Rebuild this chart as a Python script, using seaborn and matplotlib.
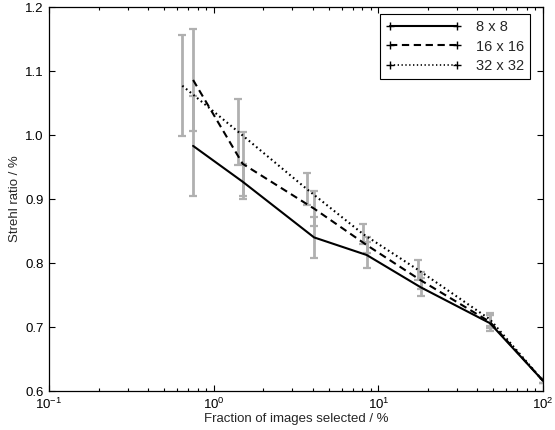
import matplotlib
matplotlib.use("Agg")
import matplotlib.pyplot as plt
from matplotlib.lines import Line2D
from matplotlib.ticker import LogLocator
import seaborn as sns
import pandas as pd

# ---- data ----
sizes = ['8 x 8', '16 x 16', '32 x 32']

frac_8 = [0.75, 1.5, 4.07, 8.5, 18.1, 47.6, 100]
strehl_8 = [0.983, 0.927, 0.840, 0.8125, 0.762, 0.706, 0.616]
err_8 = [0.078, 0.027, 0.032, 0.020, 0.014, 0.012, 0.004]

frac_16 = [0.75, 1.5, 4.07, 8.5, 18.1, 47.6, 100]
strehl_16 = [1.086, 0.955, 0.885, 0.828, 0.773, 0.708, 0.616]
err_16 = [0.080, 0.050, 0.027, 0.012, 0.013, 0.010, 0.004]

frac_32 = [0.645, 1.41, 3.70, 8.1, 17.5, 47.6, 100]
strehl_32 = [1.077, 1.005, 0.915, 0.845, 0.789, 0.712, 0.616]
err_32 = [0.079, 0.052, 0.025, 0.016, 0.016, 0.010, 0.004]

xticks = [0.1, 1, 10, 100]
yticks = [0.6, 0.7, 0.8, 0.9, 1.0, 1.1, 1.2]
ytick_labels = ['0.6', '0.7', '0.8', '0.9', '1.0', '1.1', '1.2']

series = {
    sizes[0]: (frac_8, strehl_8, err_8),
    sizes[1]: (frac_16, strehl_16, err_16),
    sizes[2]: (frac_32, strehl_32, err_32),
}

rows = []
for name, (fx, sy, ey) in series.items():
    for a, b, c in zip(fx, sy, ey):
        rows.append({'size': name, 'frac': a, 'strehl': b, 'err': c})
df = pd.DataFrame(rows)

# ---- style ----
sns.set_theme(style="ticks")
plt.rcParams['font.family'] = ['Liberation Sans', 'DejaVu Sans']
plt.rcParams['mathtext.fontset'] = 'custom'
plt.rcParams['mathtext.rm'] = 'Liberation Sans'
plt.rcParams['mathtext.it'] = 'Liberation Sans'

fig = plt.figure(figsize=(5.55, 4.30), dpi=100)
ax = fig.add_axes([49 / 555, 39 / 430, 494 / 555, 384 / 430])

# error bars (grey)
for name, (fx, sy, ey) in series.items():
    ax.errorbar(fx, sy, yerr=ey, fmt='none', ecolor='#b0b0b0',
                elinewidth=2.0, capsize=3, capthick=1.6, zorder=1)

dash_map = {sizes[0]: '', sizes[1]: (3.5, 2.2), sizes[2]: (0.8, 1.5)}
sns.lineplot(data=df, x='frac', y='strehl', hue='size', style='size',
             palette={s: 'black' for s in sizes}, dashes=dash_map,
             estimator=None, sort=False, legend=False, linewidth=1.5,
             ax=ax, zorder=3)

ax.set_xscale('log')
ax.set_xlim(0.1, 100)
ax.set_ylim(0.6, 1.2)
ax.set_xticks(xticks)
ax.set_yticks(yticks)
ax.set_yticklabels(ytick_labels)
ax.xaxis.set_minor_locator(LogLocator(base=10, subs=range(2, 10)))

ax.tick_params(which='both', direction='in', top=True, right=True,
               labelsize=9.5, colors='black', width=0.8)
ax.tick_params(which='major', length=4.5)
ax.tick_params(axis='x', which='major', pad=4.5)
ax.tick_params(axis='y', which='major', pad=4)
ax.tick_params(which='minor', length=2.2)
for sp in ax.spines.values():
    sp.set_color('black')
    sp.set_linewidth(0.9)

ax.set_xlabel('Fraction of images selected / %', fontsize=9.5, labelpad=0.5)
ax.set_ylabel('Strehl ratio / %', fontsize=9.5, labelpad=3)

handles = [
    Line2D([], [], color='black', lw=1.5, ls='-', marker='+', ms=6, mew=1),
    Line2D([], [], color='black', lw=1.5, dashes=(3.5, 2.2), marker='+', ms=6, mew=1),
    Line2D([], [], color='black', lw=1.2, dashes=(0.8, 1.5), marker='+', ms=6, mew=1),
]
leg = ax.legend(handles, sizes, loc='upper right', bbox_to_anchor=(0.974, 0.982),
                borderaxespad=0, numpoints=2, handlelength=5.2, fontsize=10.5,
                fancybox=False, framealpha=1, edgecolor='black',
                labelspacing=0.4, handletextpad=1.0, borderpad=0.4)
leg.get_frame().set_linewidth(0.8)

fig.savefig('out.png', dpi=100)
